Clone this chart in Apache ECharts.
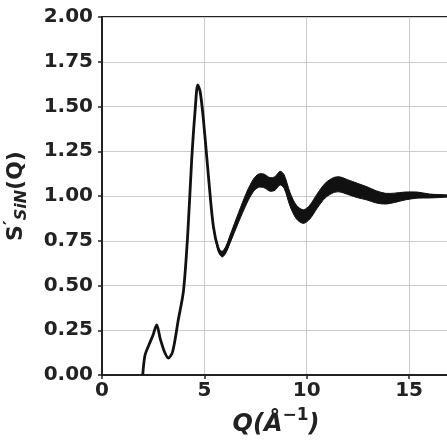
<!DOCTYPE html>
<html>
<head>
<meta charset="utf-8">
<script src="https://cdn.jsdelivr.net/npm/echarts@6/dist/echarts.min.js"></script>
<style>
  html, body { margin: 0; padding: 0; background: #fff; }
  #chart { width: 447px; height: 441px; }
</style>
</head>
<body>
<div id="chart"></div>
<script>
// Q values (Å^-1)
const qValues = [1.99, 2.1, 2.3, 2.5, 2.67, 2.85, 3.05, 3.24, 3.45, 3.73, 3.98, 4.19, 4.38, 4.55, 4.68, 4.8, 4.96, 5.2, 5.44, 5.69, 5.87, 6.05, 6.26, 6.67, 7.07, 7.4, 7.64, 7.9, 8.2, 8.45, 8.7, 8.9, 9.19, 9.5, 9.84, 10.15, 10.5, 10.9, 11.3, 11.6, 12.0, 12.5, 12.94, 13.4, 13.85, 14.3, 14.8, 15.4, 16.0, 16.9];
// S'_SiN(Q) central curve
const sValues = [0, 0.11, 0.17, 0.225, 0.28, 0.2, 0.13, 0.095, 0.13, 0.31, 0.47, 0.79, 1.2, 1.48, 1.62, 1.58, 1.42, 1.11, 0.83, 0.70, 0.675, 0.70, 0.76, 0.88, 0.99, 1.06, 1.085, 1.085, 1.065, 1.07, 1.10, 1.08, 0.98, 0.91, 0.885, 0.91, 0.97, 1.03, 1.06, 1.065, 1.05, 1.03, 1.015, 0.995, 0.985, 0.99, 1.0, 1.005, 1.0, 1.0];
// half-spread of the noisy band around the curve (S units)
const spreadValues = [0, 0, 0, 0, 0, 0, 0, 0, 0, 0, 0, 0, 0, 0, 0, 0, 0, 0.002, 0.006, 0.012, 0.016, 0.019, 0.022, 0.027, 0.032, 0.035, 0.037, 0.038, 0.038, 0.038, 0.038, 0.038, 0.038, 0.038, 0.038, 0.039, 0.04, 0.041, 0.042, 0.042, 0.041, 0.04, 0.037, 0.034, 0.03, 0.026, 0.022, 0.017, 0.011, 0.004];
// axis ticks
const xTicks = [0, 5, 10, 15];
const yTickStep = 0.25;

const lineData = qValues.map((q, i) => [q, sValues[i]]);
const bandData = qValues.map((q, i) => [q, sValues[i], spreadValues[i]]);

const chart = echarts.init(document.getElementById('chart'), null, { renderer: 'canvas' });
const font = 'DejaVu Sans';
const ink = '#222';

function renderBand(params, api) {
  if (params.dataIndex !== 0) return null;
  const upper = [], lower = [];
  for (let i = 0; i < bandData.length; i++) {
    const d = bandData[i];
    upper.push(api.coord([d[0], d[1] + d[2]]));
    lower.push(api.coord([d[0], d[1] - d[2]]));
  }
  const pts = upper.concat(lower.reverse());
  return {
    type: 'polygon',
    shape: { points: pts, smooth: 0.3 },
    style: { fill: '#111', stroke: '#111', lineWidth: 1 }
  };
}

chart.setOption({
  animation: false,
  backgroundColor: '#fff',
  grid: { left: 102, right: -3, top: 17, bottom: 66, outerBoundsMode: 'none', containLabel: false, show: true, borderColor: ink, borderWidth: 2, backgroundColor: 'transparent' },
  xAxis: {
    type: 'value', min: 0, max: 17, interval: 5,
    name: '{m|Q(Å}{p|−1}{m|)}',
    nameLocation: 'middle', nameGap: 32,
    nameTextStyle: {
      rich: {
        m: { fontFamily: font, fontSize: 24, fontWeight: 'bold', fontStyle: 'italic', color: ink, lineHeight: 30, verticalAlign: 'bottom' },
        p: { fontFamily: font, fontSize: 17, fontWeight: 'bold', color: ink, lineHeight: 18, verticalAlign: 'top' }
      }
    },
    axisLine: { show: true, lineStyle: { color: ink, width: 2 } },
    axisTick: { show: true, length: 4, lineStyle: { color: ink, width: 1.5 } },
    axisLabel: {
      fontFamily: font, fontSize: 20, fontWeight: 'bold', color: ink, margin: 6,
      formatter: v => (xTicks.indexOf(v) >= 0 ? String(v) : '')
    },
    splitLine: { show: true, lineStyle: { color: '#cccccc', width: 1 } }
  },
  yAxis: {
    type: 'value', min: 0, max: 2, interval: yTickStep,
    name: '{m|S}{p|′}{s|SiN}{m|(Q)}',
    nameLocation: 'middle', nameGap: 72, nameRotate: 90,
    nameTextStyle: {
      rich: {
        m: { fontFamily: font, fontSize: 22, fontWeight: 'bold', color: ink, lineHeight: 28, verticalAlign: 'middle' },
        p: { fontFamily: font, fontSize: 18, fontWeight: 'bold', color: ink, lineHeight: 28, verticalAlign: 'top' },
        s: { fontFamily: font, fontSize: 16, fontWeight: 'bold', fontStyle: 'italic', color: ink, lineHeight: 16, verticalAlign: 'bottom' }
      }
    },
    axisLine: { show: true, lineStyle: { color: ink, width: 2 } },
    axisTick: { show: true, length: 4, lineStyle: { color: ink, width: 1.5 } },
    axisLabel: {
      fontFamily: font, fontSize: 20, fontWeight: 'bold', color: ink, margin: 9,
      formatter: v => v.toFixed(2)
    },
    splitLine: { show: true, lineStyle: { color: '#cccccc', width: 1 } }
  },
  series: [
    {
      type: 'custom', data: bandData, renderItem: renderBand, silent: true,
      encode: { x: 0, y: 1 }, clip: true, z: 2
    },
    {
      type: 'line', data: lineData, smooth: 0.3, symbol: 'none', z: 3,
      lineStyle: { color: '#111', width: 2.8 }
    }
  ]
});
</script>
</body>
</html>
